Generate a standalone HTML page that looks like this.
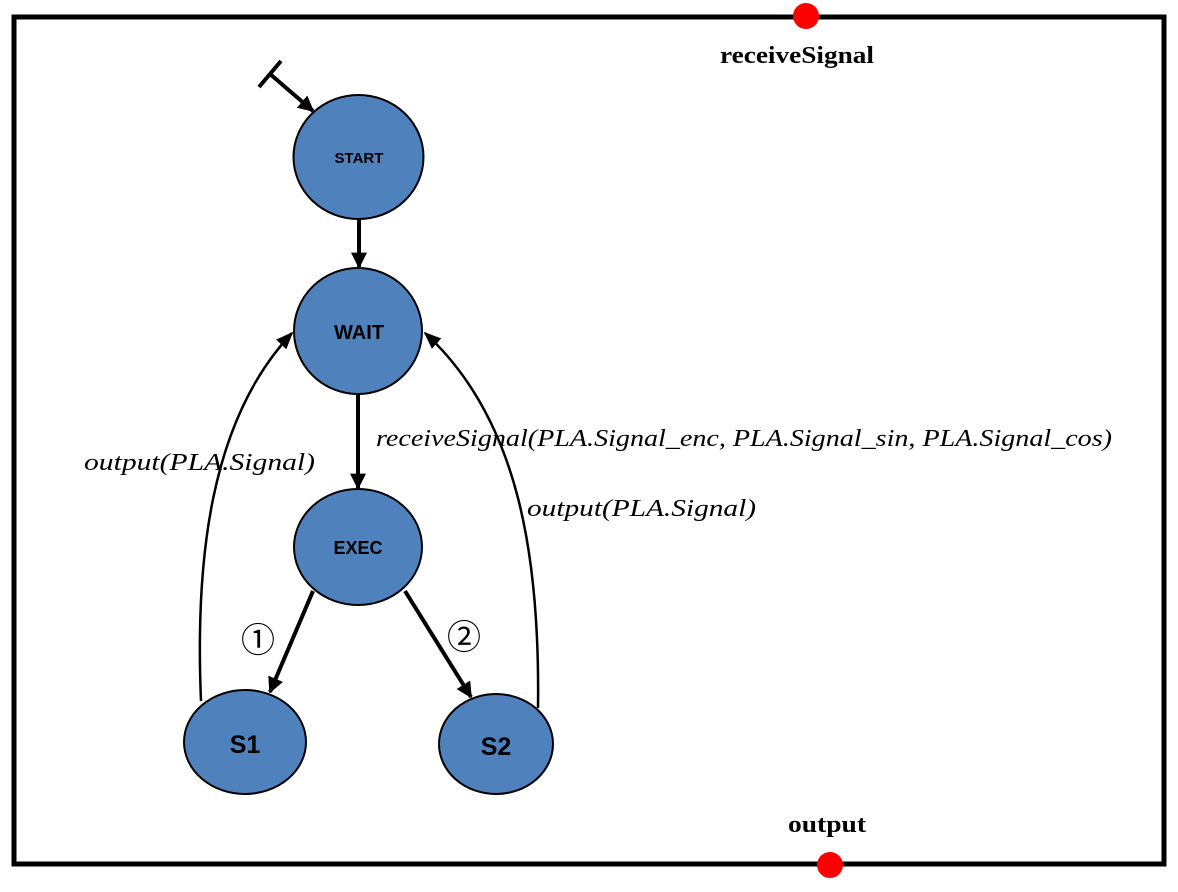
<!DOCTYPE html>
<html><head><style>body{margin:0;background:#fff}</style></head><body>
<svg width="1178" height="887" viewBox="0 0 1178 887" xmlns="http://www.w3.org/2000/svg">
<defs>
<marker id="a" viewBox="0 0 10 10" refX="9" refY="5" markerWidth="4" markerHeight="4" orient="auto"><path d="M0,0L10,5L0,10z" fill="#000"/></marker>
<marker id="b" viewBox="0 0 10 10" refX="9" refY="5" markerWidth="7" markerHeight="7" orient="auto"><path d="M0,1L10,5L0,9z" fill="#000"/></marker>
</defs>
<rect x="14" y="17" width="1150" height="847" fill="none" stroke="#000" stroke-width="5"/>
<circle cx="806" cy="16" r="13" fill="#f00"/>
<circle cx="830" cy="865" r="13" fill="#f00"/>
<g font-family="Liberation Serif, serif" font-weight="bold" font-size="24">
<text x="720" y="63" textLength="154" lengthAdjust="spacingAndGlyphs">receiveSignal</text>
<text x="788" y="832" textLength="78" lengthAdjust="spacingAndGlyphs">output</text>
</g>
<g fill="#4f81bd" stroke="#000" stroke-width="2">
<ellipse cx="358.5" cy="157" rx="65" ry="62"/>
<ellipse cx="358" cy="331" rx="64" ry="63"/>
<ellipse cx="358" cy="547" rx="64" ry="58"/>
<ellipse cx="245" cy="742" rx="61" ry="52"/>
<ellipse cx="496" cy="744" rx="57" ry="50"/>
</g>
<g font-family="Liberation Sans, sans-serif" font-weight="bold" text-anchor="middle" fill="#000">
<text x="359" y="163" font-size="15">START</text>
<text x="359" y="339" font-size="20">WAIT</text>
<text x="358" y="554" font-size="18">EXEC</text>
<text x="245" y="753" font-size="25">S1</text>
<text x="496" y="755" font-size="25">S2</text>
</g>
<g stroke="#000" fill="none">
<line x1="259" y1="87" x2="281" y2="61" stroke-width="4"/>
<line x1="270" y1="74" x2="313" y2="111" stroke-width="4" marker-end="url(#a)"/>
<line x1="359" y1="219" x2="359" y2="267" stroke-width="4" marker-end="url(#a)"/>
<line x1="358" y1="394" x2="358" y2="488" stroke-width="4" marker-end="url(#a)"/>
<line x1="313" y1="591" x2="270" y2="692" stroke-width="4" marker-end="url(#a)"/>
<line x1="405" y1="591" x2="471" y2="697" stroke-width="4" marker-end="url(#a)"/>
<path d="M201,701 C195,560 210,420 292,333" stroke-width="2.5" marker-end="url(#b)"/>
<path d="M538,708 C540,560 520,420 425,333" stroke-width="2.5" marker-end="url(#b)"/>
</g>
<g font-family="Liberation Serif, serif" font-style="italic" font-size="24" fill="#000">
<text x="376" y="446" textLength="736" lengthAdjust="spacingAndGlyphs">receiveSignal(PLA.Signal_enc, PLA.Signal_sin, PLA.Signal_cos)</text>
<text x="84" y="470" textLength="231" lengthAdjust="spacingAndGlyphs">output(PLA.Signal)</text>
<text x="527" y="516" textLength="229" lengthAdjust="spacingAndGlyphs">output(PLA.Signal)</text>
</g>
<g font-family="Noto Sans CJK JP, DejaVu Sans, sans-serif" font-size="34" fill="#000" text-anchor="middle">
<text x="258" y="652">①</text>
<text x="464" y="649">②</text>
</g>
</svg>
</body></html>
